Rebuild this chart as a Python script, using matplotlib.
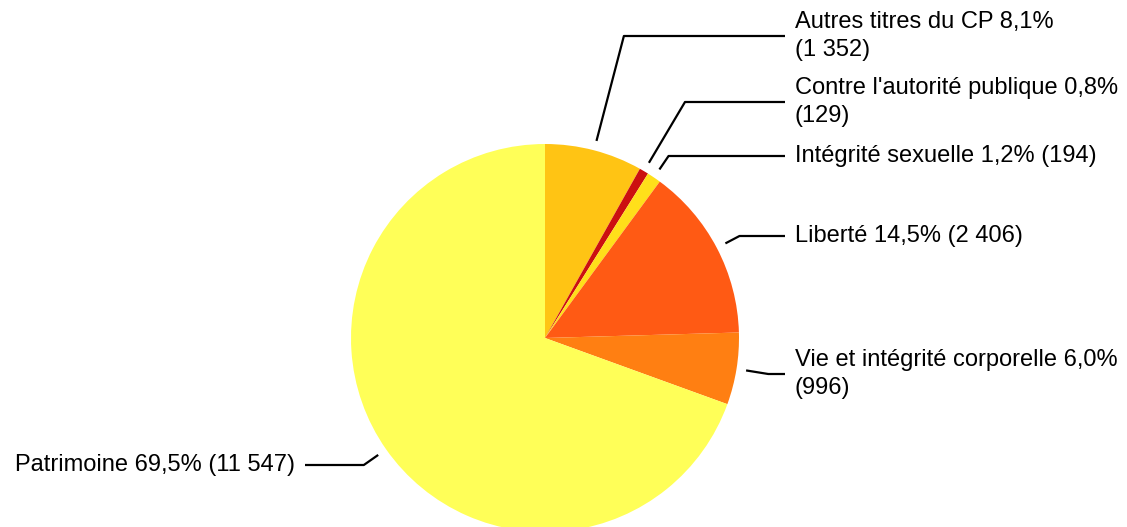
import matplotlib.pyplot as plt
import numpy as np

# Infractions by category (counts), clockwise from 12 o'clock
categories = ["Autres titres du CP", "Contre l'autorité publique", "Intégrité sexuelle",
              "Liberté", "Vie et intégrité corporelle", "Patrimoine"]
counts = [1352, 129, 194, 2406, 996, 11547]
shares = ["8,1%", "0,8%", "1,2%", "14,5%", "6,0%", "69,5%"]
counts_txt = ["1 352", "129", "194", "2 406", "996", "11 547"]
colors = ["#FFC414", "#CC1010", "#FFDF1A", "#FF5A14", "#FF7F12", "#FFFF58"]

labels = [categories[0] + " " + shares[0] + "\n(" + counts_txt[0] + ")",
          categories[1] + " " + shares[1] + "\n(" + counts_txt[1] + ")",
          categories[2] + " " + shares[2] + " (" + counts_txt[2] + ")",
          categories[3] + " " + shares[3] + " (" + counts_txt[3] + ")",
          categories[4] + " " + shares[4] + "\n(" + counts_txt[4] + ")",
          categories[5] + " " + shares[5] + " (" + counts_txt[5] + ")"]

# layout (pixel units, y measured from the top)
W, H = 1127, 527
cx, cy, R = 545, 338, 194
label_y = [36, 102, 156, 236, 374, 465]
line_end_right, text_right = 785, 795
line_end_left, text_left = 305, 295

plt.rcParams['font.family'] = ['Liberation Sans', 'DejaVu Sans']

fig = plt.figure(figsize=(W / 100, H / 100), dpi=100)
ax = fig.add_axes([0, 0, 1, 1])

wedges, _ = ax.pie(counts, colors=colors, startangle=90, counterclock=False,
                   center=(cx, H - cy), radius=R,
                   wedgeprops=dict(linewidth=0))

for w, lab, ly in zip(wedges, labels, label_y):
    mid = np.deg2rad((w.theta1 + w.theta2) / 2)
    dx, dy = np.cos(mid), np.sin(mid)
    x0, y0 = cx + 1.05 * R * dx, (H - cy) + 1.05 * R * dy
    yl = H - ly
    t = (yl - (H - cy)) / dy if abs(dy) > 1e-6 else 1.05 * R
    xe = cx + t * dx
    if dx > 0:
        xs = [x0, xe, line_end_right]
        ax.text(text_right, yl, lab, ha='left', va='center', fontsize=17,
                linespacing=1.3)
    else:
        xs = [x0, xe, line_end_left]
        ax.text(text_left, yl, lab, ha='right', va='center', fontsize=17,
                linespacing=1.3)
    ax.plot(xs, [y0, yl, yl], color='black', lw=1.6, solid_capstyle='butt')

ax.set_xlim(0, W)
ax.set_ylim(0, H)
ax.set_aspect('equal')
ax.axis('off')

fig.savefig("out.png", dpi=100)
